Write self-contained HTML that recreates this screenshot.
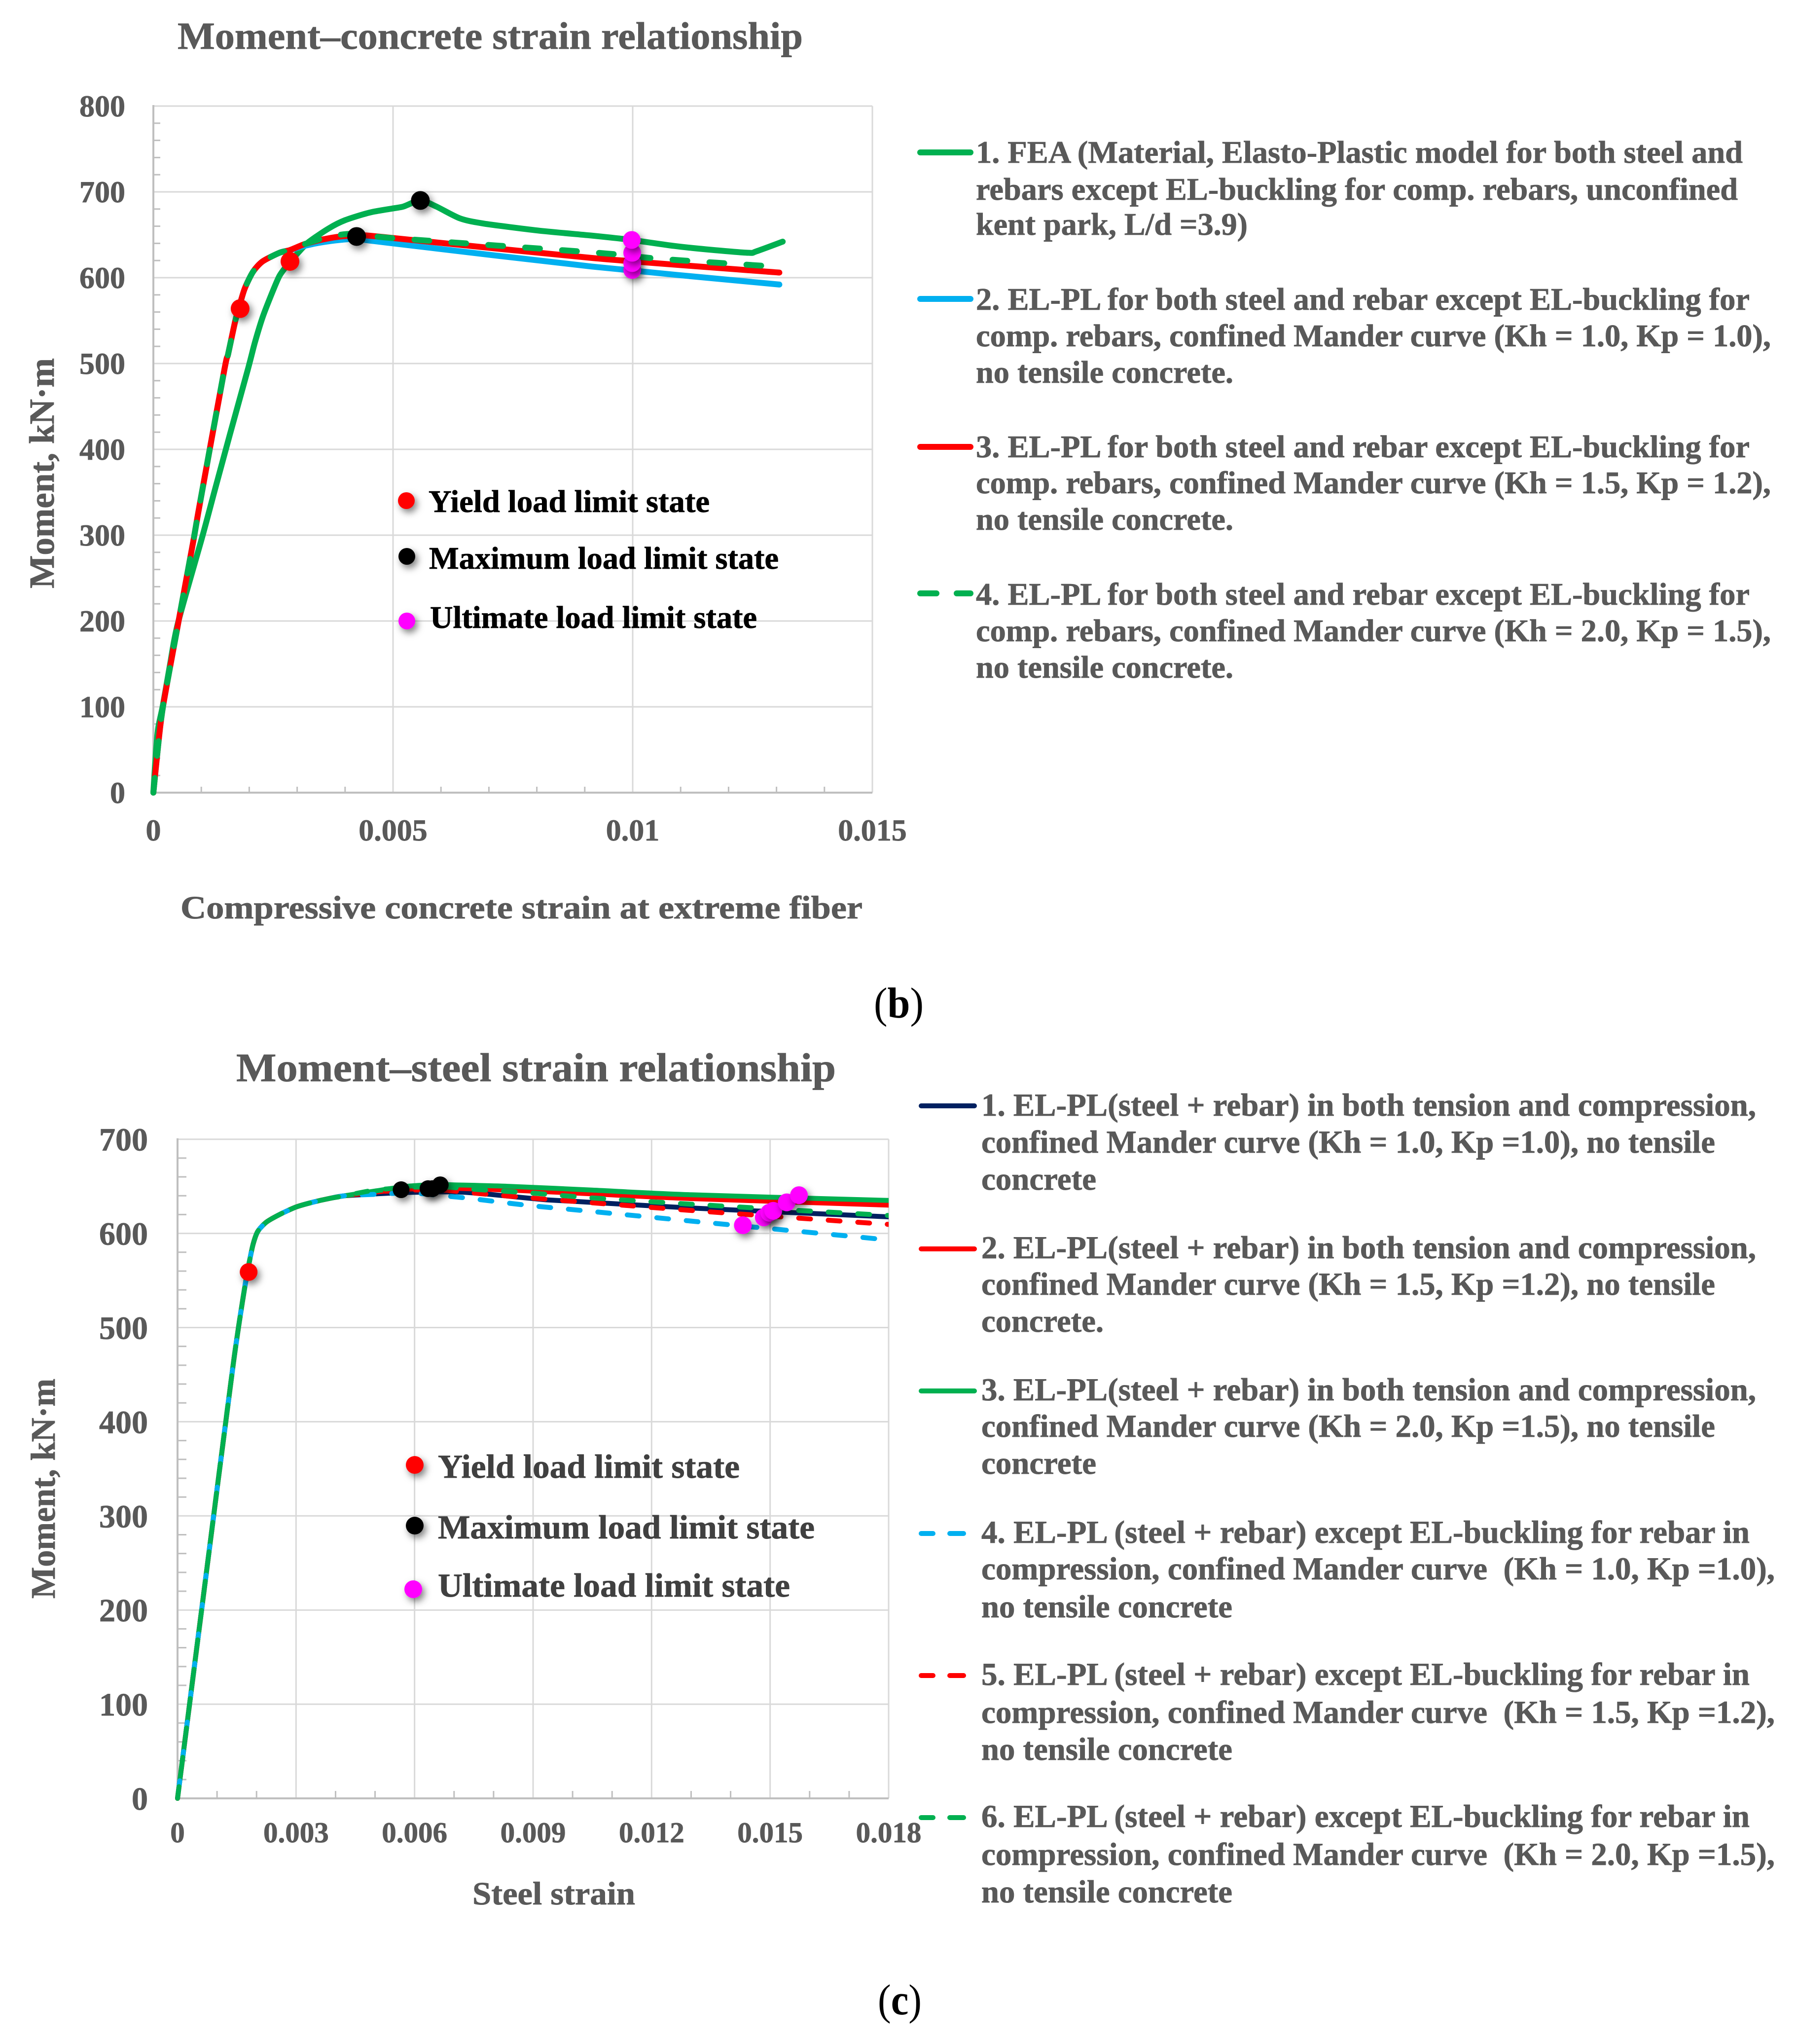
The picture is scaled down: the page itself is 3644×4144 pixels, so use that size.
<!DOCTYPE html>
<html lang="en">
<head>
<meta charset="utf-8">
<title>Moment-strain relationships</title>
<style>
html,body{margin:0;padding:0;background:#fff;width:3644px;height:4144px;overflow:hidden}
svg{display:block}
text{font-family:"Liberation Serif",serif;font-weight:bold;fill:#595959;stroke:#595959;stroke-width:0.8px;white-space:pre;text-rendering:geometricPrecision}
.lg{font-size:64px}
.lg2{font-size:65px}
.mk{fill:#000;stroke:#000;font-size:64px}
.mk2{fill:#404040;stroke:#404040;font-size:68px}
.cap{fill:#000;stroke:none;font-weight:normal;font-size:88px}
.cap tspan{font-weight:bold}
</style>
</head>
<body>
<svg id="figure" xmlns="http://www.w3.org/2000/svg" width="3644" height="4144" viewBox="0 0 3644 4144">
<defs>
<filter id="soft" x="-100%" y="-100%" width="300%" height="300%">
<feDropShadow dx="5" dy="7" stdDeviation="7" flood-color="#000" flood-opacity="0.5"/>
</filter>
<clipPath id="clip-c"><rect x="340" y="2290" width="1462" height="1370"/></clipPath>
</defs>
<rect width="3644" height="4144" fill="#fff"/>

<g id="chart-b">
<text x="360" y="99" font-size="78" textLength="1268" lengthAdjust="spacingAndGlyphs">Moment–concrete strain relationship</text>
<text x="366" y="1862" font-size="66" textLength="1383" lengthAdjust="spacingAndGlyphs">Compressive concrete strain at extreme fiber</text>
<text transform="translate(109,1193) rotate(-90)" font-size="72" textLength="467" lengthAdjust="spacingAndGlyphs">Moment, kN·m</text>
</g>
<g id="chart-c">
<text x="479" y="2192" font-size="82" textLength="1216" lengthAdjust="spacingAndGlyphs">Moment–steel strain relationship</text>
<text x="958" y="3861" font-size="66" textLength="330" lengthAdjust="spacingAndGlyphs">Steel strain</text>
<text transform="translate(111,3241) rotate(-90)" font-size="70" textLength="446" lengthAdjust="spacingAndGlyphs">Moment, kN·m</text>
</g>

<g>
<circle cx="824" cy="1015" r="17" fill="#ff0000" filter="url(#soft)"/>
<circle cx="825" cy="1128" r="17" fill="#000" filter="url(#soft)"/>
<circle cx="825" cy="1259" r="17" fill="#ff00ff" filter="url(#soft)"/>
<text class="mk" x="869" y="1038" textLength="570" lengthAdjust="spacingAndGlyphs">Yield load limit state</text>
<text class="mk" x="870" y="1153" textLength="709" lengthAdjust="spacingAndGlyphs">Maximum load limit state</text>
<text class="mk" x="872" y="1273" textLength="663" lengthAdjust="spacingAndGlyphs">Ultimate load limit state</text>
</g>

<g>
<circle cx="841" cy="2970" r="18" fill="#ff0000" filter="url(#soft)"/>
<circle cx="841" cy="3093" r="18" fill="#000" filter="url(#soft)"/>
<circle cx="838" cy="3222" r="18" fill="#ff00ff" filter="url(#soft)"/>
<text class="mk2" x="888" y="2996" textLength="612" lengthAdjust="spacingAndGlyphs">Yield load limit state</text>
<text class="mk2" x="888" y="3119" textLength="764" lengthAdjust="spacingAndGlyphs">Maximum load limit state</text>
<text class="mk2" x="888" y="3237" textLength="714" lengthAdjust="spacingAndGlyphs">Ultimate load limit state</text>
</g>

<g>
<line x1="1866" x2="1968" y1="309" y2="309" stroke="#00b050" stroke-width="12" stroke-linecap="round"/>
<text class="lg"><tspan x="1979" y="330" textLength="1555" lengthAdjust="spacingAndGlyphs">1. FEA (Material, Elasto-Plastic model for both steel and</tspan><tspan x="1979" y="405" textLength="1545" lengthAdjust="spacingAndGlyphs">rebars except EL-buckling for comp. rebars, unconfined</tspan><tspan x="1979" y="476" textLength="551" lengthAdjust="spacingAndGlyphs">kent park, L/d =3.9)</tspan></text>
<line x1="1866" x2="1968" y1="606" y2="606" stroke="#00b0f0" stroke-width="12" stroke-linecap="round"/>
<text class="lg"><tspan x="1979" y="628" textLength="1569" lengthAdjust="spacingAndGlyphs">2. EL-PL for both steel and rebar except EL-buckling for</tspan><tspan x="1979" y="702" textLength="1612" lengthAdjust="spacingAndGlyphs">comp. rebars, confined Mander curve (Kh = 1.0, Kp = 1.0),</tspan><tspan x="1979" y="776" textLength="522" lengthAdjust="spacingAndGlyphs">no tensile concrete.</tspan></text>
<line x1="1866" x2="1968" y1="906" y2="906" stroke="#ff0000" stroke-width="12" stroke-linecap="round"/>
<text class="lg"><tspan x="1979" y="927" textLength="1569" lengthAdjust="spacingAndGlyphs">3. EL-PL for both steel and rebar except EL-buckling for</tspan><tspan x="1979" y="1000" textLength="1612" lengthAdjust="spacingAndGlyphs">comp. rebars, confined Mander curve (Kh = 1.5, Kp = 1.2),</tspan><tspan x="1979" y="1074" textLength="522" lengthAdjust="spacingAndGlyphs">no tensile concrete.</tspan></text>
<line x1="1866" x2="1899" y1="1203" y2="1203" stroke="#00b050" stroke-width="12" stroke-linecap="round"/>
<line x1="1940" x2="1968" y1="1203" y2="1203" stroke="#00b050" stroke-width="12" stroke-linecap="round"/>
<text class="lg"><tspan x="1979" y="1226" textLength="1569" lengthAdjust="spacingAndGlyphs">4. EL-PL for both steel and rebar except EL-buckling for</tspan><tspan x="1979" y="1300" textLength="1612" lengthAdjust="spacingAndGlyphs">comp. rebars, confined Mander curve (Kh = 2.0, Kp = 1.5),</tspan><tspan x="1979" y="1374" textLength="522" lengthAdjust="spacingAndGlyphs">no tensile concrete.</tspan></text>
</g>

<g>
<line x1="1868" x2="1976" y1="2242" y2="2242" stroke="#002060" stroke-width="10" stroke-linecap="round"/>
<text class="lg2" transform="translate(0,2)"><tspan x="1990" y="2260" textLength="1571" lengthAdjust="spacingAndGlyphs">1. EL-PL(steel + rebar) in both tension and compression,</tspan><tspan x="1990" y="2335" textLength="1488" lengthAdjust="spacingAndGlyphs">confined Mander curve (Kh = 1.0, Kp =1.0), no tensile</tspan><tspan x="1990" y="2410" textLength="233" lengthAdjust="spacingAndGlyphs">concrete</tspan></text>
<line x1="1868" x2="1976" y1="2532" y2="2532" stroke="#ff0000" stroke-width="10" stroke-linecap="round"/>
<text class="lg2" transform="translate(0,1)"><tspan x="1990" y="2550" textLength="1571" lengthAdjust="spacingAndGlyphs">2. EL-PL(steel + rebar) in both tension and compression,</tspan><tspan x="1990" y="2624" textLength="1488" lengthAdjust="spacingAndGlyphs">confined Mander curve (Kh = 1.5, Kp =1.2), no tensile</tspan><tspan x="1990" y="2699" textLength="248" lengthAdjust="spacingAndGlyphs">concrete.</tspan></text>
<line x1="1868" x2="1976" y1="2820" y2="2820" stroke="#00b050" stroke-width="10" stroke-linecap="round"/>
<text class="lg2" transform="translate(0,1)"><tspan x="1990" y="2838" textLength="1571" lengthAdjust="spacingAndGlyphs">3. EL-PL(steel + rebar) in both tension and compression,</tspan><tspan x="1990" y="2912" textLength="1488" lengthAdjust="spacingAndGlyphs">confined Mander curve (Kh = 2.0, Kp =1.5), no tensile</tspan><tspan x="1990" y="2987" textLength="233" lengthAdjust="spacingAndGlyphs">concrete</tspan></text>
<line x1="1868" x2="1892" y1="3109" y2="3109" stroke="#00b0f0" stroke-width="10" stroke-linecap="round"/>
<line x1="1926" x2="1954" y1="3109" y2="3109" stroke="#00b0f0" stroke-width="10" stroke-linecap="round"/>
<text class="lg2" transform="translate(0,1)"><tspan x="1990" y="3127" textLength="1558" lengthAdjust="spacingAndGlyphs">4. EL-PL (steel + rebar) except EL-buckling for rebar in</tspan><tspan x="1990" y="3201" textLength="1609" lengthAdjust="spacingAndGlyphs">compression, confined Mander curve  (Kh = 1.0, Kp =1.0),</tspan><tspan x="1990" y="3278" textLength="509" lengthAdjust="spacingAndGlyphs">no tensile concrete</tspan></text>
<line x1="1868" x2="1892" y1="3397" y2="3397" stroke="#ff0000" stroke-width="10" stroke-linecap="round"/>
<line x1="1926" x2="1954" y1="3397" y2="3397" stroke="#ff0000" stroke-width="10" stroke-linecap="round"/>
<text class="lg2" transform="translate(0,1)"><tspan x="1990" y="3415" textLength="1558" lengthAdjust="spacingAndGlyphs">5. EL-PL (steel + rebar) except EL-buckling for rebar in</tspan><tspan x="1990" y="3492" textLength="1609" lengthAdjust="spacingAndGlyphs">compression, confined Mander curve  (Kh = 1.5, Kp =1.2),</tspan><tspan x="1990" y="3567" textLength="509" lengthAdjust="spacingAndGlyphs">no tensile concrete</tspan></text>
<line x1="1868" x2="1892" y1="3685" y2="3685" stroke="#00b050" stroke-width="10" stroke-linecap="round"/>
<line x1="1926" x2="1954" y1="3685" y2="3685" stroke="#00b050" stroke-width="10" stroke-linecap="round"/>
<text class="lg2" transform="translate(0,1)"><tspan x="1990" y="3703" textLength="1558" lengthAdjust="spacingAndGlyphs">6. EL-PL (steel + rebar) except EL-buckling for rebar in</tspan><tspan x="1990" y="3780" textLength="1609" lengthAdjust="spacingAndGlyphs">compression, confined Mander curve  (Kh = 2.0, Kp =1.5),</tspan><tspan x="1990" y="3856" textLength="509" lengthAdjust="spacingAndGlyphs">no tensile concrete</tspan></text>
</g>

<text class="cap" x="1772" y="2063" textLength="101" lengthAdjust="spacingAndGlyphs">(<tspan>b</tspan>)</text>
<text class="cap" x="1780" y="4084" textLength="89" lengthAdjust="spacingAndGlyphs">(<tspan>c</tspan>)</text>
</svg>

<script>
// ---- Panel (b): moment vs. compressive concrete strain ----
const bYTicks = [0, 100, 200, 300, 400, 500, 600, 700, 800];
const bXTicks = [0, 0.005, 0.01, 0.015];
const bXTickLabels = ['0', '0.005', '0.01', '0.015'];
const bXMinorTicks = [0.001, 0.002, 0.003, 0.004, 0.006, 0.007, 0.008, 0.009, 0.011, 0.012, 0.013, 0.014];

const bFea = [[0,0],[0.00005,45],[0.0001,75],[0.0002,102],[0.00035,150],[0.00051,197],[0.00102,298],[0.00127,350],[0.0016,418],[0.00198,495],[0.00212,525],[0.00228,554],[0.00246,580],[0.00263,602],[0.0028,615],[0.00305,631],[0.00325,642],[0.00366,657.5],[0.004,667],[0.00452,676],[0.00503,681],[0.00522,683],[0.00557,690],[0.0059,683],[0.0064,669],[0.0069,663],[0.00802,655],[0.00915,649],[0.00997,644],[0.01086,637],[0.01154,633],[0.01241,629],[0.01257,630.5],[0.01313,642]];
const bRise = [[0,0],[0.0001,55],[0.0002,100],[0.00051,195],[0.00083,292],[0.00098,340],[0.00148,492.5],[0.00156,511],[0.00171,550],[0.00181,570],[0.00191,588],[0.00208,607],[0.00228,619],[0.00263,629],[0.00284,632]];
const bKh10Tail = [[0.00315,637],[0.00349,641],[0.0039,644],[0.00424,645],[0.005,640],[0.00915,613],[0.01306,592]];
const bKh15Tail = [[0.00315,639],[0.00349,644],[0.0039,648],[0.00424,649],[0.00469,648],[0.00915,623],[0.01306,606]];
const bKh20Tail = [[0.00315,639],[0.00349,645],[0.0039,650],[0.00424,651],[0.00503,646],[0.00927,629],[0.01056,622],[0.01306,612.6]];

const bYieldPoints = [[0.00181,564],[0.00285,619]];
const bMaxPoints = [[0.00424,648],[0.00557,690]];
const bUltimatePoints = [[0.00999,609],[0.00999,617],[0.00999,629],[0.00998,644]];

// ---- Panel (c): moment vs. steel strain ----
const cYTicks = [0, 100, 200, 300, 400, 500, 600, 700];
const cXTicks = [0, 0.003, 0.006, 0.009, 0.012, 0.015, 0.018];
const cXTickLabels = ['0', '0.003', '0.006', '0.009', '0.012', '0.015', '0.018'];
const cXMinorTicks = [0.001, 0.002, 0.004, 0.005, 0.007, 0.008, 0.01, 0.011, 0.013, 0.014, 0.016, 0.017];

const cRise = [[0,0],[0.00103,338],[0.0014,458],[0.0015,488],[0.0016,516],[0.00171,545],[0.0018,566],[0.00191,588],[0.00203,602],[0.00225,612],[0.00258,620],[0.003,628],[0.00341,633],[0.00383,637],[0.00424,640]];
const cNavyTail = [[0.0055,643],[0.0064,644],[0.00708,644],[0.00778,642],[0.00924,636],[0.01007,634],[0.013,627],[0.018,617.6]];
const cRedTail = [[0.0055,646],[0.0064,648],[0.00695,648],[0.0084,646],[0.01049,642],[0.013,637],[0.018,630]];
const cGreenTail = [[0.005,645],[0.0058,650],[0.0066,652],[0.00695,651.6],[0.0084,650],[0.01049,646],[0.013,641],[0.018,635]];
const cBlueDashTail = [[0.005,641.5],[0.0059,643],[0.0067,640],[0.00733,637.5],[0.00882,630],[0.01032,624],[0.01327,612],[0.01552,603],[0.01776,594],[0.018,592.5]];
const cRedDashTail = [[0.005,644],[0.0059,646],[0.0067,646],[0.00745,643],[0.00895,637.6],[0.01045,632.7],[0.01344,623],[0.01785,610],[0.018,609.5]];
const cGreenDashTail = [[0.005,646],[0.0059,649],[0.0067,649.5],[0.00745,647],[0.00893,643],[0.0104,638],[0.0134,630],[0.018,619]];

const cYieldPoints = [[0.0018,559]];
const cMaxPoints = [[0.00566,646.4],[0.00634,647.5],[0.00645,647.5],[0.00665,651.6]];
const cUltimatePoints = [[0.01431,608.7],[0.01484,617],[0.01498,622],[0.01508,624],[0.01542,633],[0.01573,640.6]];

const SVG_NS = 'http://www.w3.org/2000/svg';

function make(parent, tag, attrs, name) {
  const el = document.createElementNS(SVG_NS, tag);
  for (const k in attrs) el.setAttribute(k, attrs[k]);
  
  
  parent.appendChild(el);
  return el;
}

function smoothPath(points, sx, sy) {
  const p = points.map(d => [sx(d[0]), sy(d[1])]);
  let out = 'M' + p[0][0].toFixed(1) + ' ' + p[0][1].toFixed(1);
  const t = 0.13;
  for (let i = 0; i < p.length - 1; i++) {
    const a = p[Math.max(0, i - 1)], b = p[i], c = p[i + 1], d = p[Math.min(p.length - 1, i + 2)];
    const c1x = b[0] + (c[0] - a[0]) * t, c1y = b[1] + (c[1] - a[1]) * t;
    const c2x = c[0] - (d[0] - b[0]) * t, c2y = c[1] - (d[1] - b[1]) * t;
    out += 'C' + c1x.toFixed(1) + ' ' + c1y.toFixed(1) + ' ' + c2x.toFixed(1) + ' ' + c2y.toFixed(1) + ' ' + c[0].toFixed(1) + ' ' + c[1].toFixed(1);
  }
  return out;
}

function drawFrame(root, o) {
  const sx = o.sx, sy = o.sy;
  const x0 = sx(0), x1 = sx(o.xMax), y0 = sy(0), y1 = sy(o.yMax);
  const before = root.firstChild;
  const layer = make(root, 'g', {}, 'plot-frame');
  root.insertBefore(layer, before);
  o.yTicks.forEach(v => {
    if (v > 0) make(layer, 'line', {x1: x0, x2: x1, y1: sy(v), y2: sy(v), stroke: '#d9d9d9', 'stroke-width': 3}, 'y-gridline');
    const lbl = make(layer, 'text', {x: o.yLabelX, y: sy(v) + o.yLabelDy, 'text-anchor': 'end', 'font-size': o.tickFont}, 'y-tick-label');
    lbl.textContent = String(v);
  });
  for (let i = 0; i < o.yTicks.length - 1; i++) {
    for (let k = 1; k < 5; k++) {
      const v = o.yTicks[i] + (o.yTicks[i + 1] - o.yTicks[i]) * k / 5;
      make(layer, 'line', {x1: x0, x2: x0 + o.yTickLen, y1: sy(v), y2: sy(v), stroke: '#bfbfbf', 'stroke-width': 3}, 'y-minor-tick');
    }
  }
  o.xTicks.forEach((v, i) => {
    if (v > 0) make(layer, 'line', {x1: sx(v), x2: sx(v), y1: y1, y2: y0, stroke: '#d9d9d9', 'stroke-width': 3}, 'x-gridline');
    const lbl = make(layer, 'text', {x: sx(v), y: o.xLabelY, 'text-anchor': 'middle', 'font-size': o.xTickFont}, 'x-tick-label');
    lbl.textContent = o.xLabels[i];
  });
  o.xMinor.forEach(v => {
    make(layer, 'line', {x1: sx(v), x2: sx(v), y1: y0 - o.xTickLen, y2: y0, stroke: '#bfbfbf', 'stroke-width': 3}, 'x-minor-tick');
  });
  make(layer, 'line', {x1: x0, x2: x0, y1: y1 - 2, y2: y0 + 2, stroke: '#bfbfbf', 'stroke-width': 4}, 'y-axis-line');
  make(layer, 'line', {x1: x0, x2: x1, y1: y0, y2: y0, stroke: '#bfbfbf', 'stroke-width': 4}, 'x-axis-line');
}

function drawSeries(root, data, sx, sy, color, width, dash, offset, name) {
  const attrs = {d: smoothPath(data, sx, sy), fill: 'none', stroke: color, 'stroke-width': width, 'stroke-linecap': 'round', 'stroke-linejoin': 'round'};
  if (dash) { attrs['stroke-dasharray'] = dash; attrs['stroke-dashoffset'] = offset; }
  make(root, 'path', attrs, name);
}

function drawPoints(root, pts, sx, sy, color, r, name) {
  pts.forEach(d => {
    make(root, 'circle', {cx: sx(d[0]), cy: sy(d[1]), r: r, fill: color, filter: 'url(#soft)'}, name);
  });
}

// Panel (b)
const bX = v => 311 + v * 97200;
const bY = v => 1607 - v * 1.74;
const bRoot = document.getElementById('chart-b');
drawFrame(bRoot, {sx: bX, sy: bY, xMax: 0.015, yMax: 800, yTicks: bYTicks, xTicks: bXTicks, xLabels: bXTickLabels, xMinor: bXMinorTicks, yLabelX: 254, yLabelDy: 21, tickFont: 62, xTickFont: 62, xLabelY: 1704, yTickLen: 14, xTickLen: 12});
const bSeries = make(bRoot, 'g', {}, 'chart-b-series');
drawSeries(bSeries, bFea, bX, bY, '#00b050', 12, null, 0, 'series-fea');
drawSeries(bSeries, bRise.concat(bKh10Tail), bX, bY, '#00b0f0', 12, null, 0, 'series-kh10');
drawSeries(bSeries, bRise.concat(bKh15Tail), bX, bY, '#ff0000', 12, null, 0, 'series-kh15');
drawSeries(bSeries, bRise.concat(bKh20Tail), bX, bY, '#00b050', 12, '30 45', 0, 'series-kh20-dashed');
drawPoints(bSeries, bYieldPoints, bX, bY, '#ff0000', 19, 'yield-point');
drawPoints(bSeries, bMaxPoints, bX, bY, '#000000', 19, 'maximum-point');
drawPoints(bSeries, bUltimatePoints, bX, bY, '#ff00ff', 18, 'ultimate-point');

// Panel (c)
const cX = v => 360 + v * 80111;
const cY = v => 3646 - v * 1.909;
const cRoot = document.getElementById('chart-c');
drawFrame(cRoot, {sx: cX, sy: cY, xMax: 0.018, yMax: 700, yTicks: cYTicks, xTicks: cXTicks, xLabels: cXTickLabels, xMinor: cXMinorTicks, yLabelX: 300, yLabelDy: 23, tickFont: 66, xTickFont: 59, xLabelY: 3735, yTickLen: 18, xTickLen: 15});
const cSeries = make(cRoot, 'g', {}, 'chart-c-series');
const cLines = make(cSeries, 'g', {'clip-path': 'url(#clip-c)'}, 'chart-c-lines');
drawSeries(cLines, cRise.concat(cNavyTail), cX, cY, '#002060', 10, null, 0, 'series-elpl-kh10');
drawSeries(cLines, cRise.concat(cRedTail), cX, cY, '#ff0000', 10, null, 0, 'series-elpl-kh15');
drawSeries(cLines, cRise.concat(cGreenTail), cX, cY, '#00b050', 10, null, 0, 'series-elpl-kh20');
drawSeries(cLines, cRise.concat(cRedDashTail), cX, cY, '#ff0000', 10, '24 36', 0, 'series-buckling-kh15-dashed');
drawSeries(cLines, cRise.concat(cBlueDashTail), cX, cY, '#00b0f0', 10, '24 36', -12, 'series-buckling-kh10-dashed');
drawSeries(cLines, cRise.concat(cGreenDashTail), cX, cY, '#00b050', 10, '24 36', 0, 'series-buckling-kh20-dashed');
drawPoints(cSeries, cYieldPoints, cX, cY, '#ff0000', 18, 'yield-point');
drawPoints(cSeries, cMaxPoints, cX, cY, '#000000', 17, 'maximum-point');
drawPoints(cSeries, cUltimatePoints, cX, cY, '#ff00ff', 18, 'ultimate-point');
</script>
</body>
</html>
